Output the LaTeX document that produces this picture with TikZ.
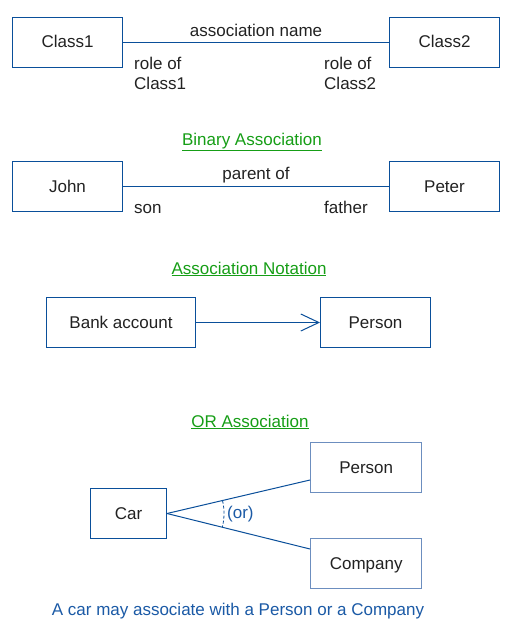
\documentclass[tikz,border=0pt]{standalone}
\usepackage{fontspec}
\setmainfont{Liberation Sans}
\usetikzlibrary{arrows.meta}
\definecolor{edge}{HTML}{0A4F9A}
\definecolor{lightedge}{HTML}{6C8EBF}
\definecolor{ttl}{HTML}{169E16}
\definecolor{txt}{HTML}{222222}
\definecolor{cap}{HTML}{1B5AA6}
\begin{document}
\begin{tikzpicture}[x=1pt,y=-1pt,
  cls/.style={draw=edge,line width=1pt,minimum width=110pt,minimum height=50pt,inner sep=0pt,text height=14.5pt,text depth=3.5pt,text=txt,font=\fontsize{17}{20}\selectfont,anchor=north west},
  lcls/.style={cls,draw=lightedge,line width=1.4pt},
  conn/.style={draw=edge,line width=1pt},
  lbl/.style={text=txt,font=\fontsize{17}{20}\selectfont,inner sep=0pt},
  ttlstyle/.style={text=ttl,font=\fontsize{17}{20}\selectfont,inner sep=0pt},
  captxt/.style={text=cap,font=\fontsize{17}{20}\selectfont,inner sep=0pt}]
\useasboundingbox[fill=white] (0,0) rectangle (511,631);
% section 1
\node[cls] (c1) at (12,17) {Class1};
\node[cls] (c2) at (389,17) {Class2};
\draw[conn] (c1.east) -- node[lbl,above=5pt] (an) {association name} (c2.west);
\node[lbl,anchor=north west,align=left] (r1) at (134,57) {role of\\Class1};
\node[lbl,anchor=north west,align=left] (r2) at (324,57) {role of\\Class2};
% section 2
\node[ttlstyle] (t1) at (252,142) {\underline{Binary Association}};
\node[cls] (john) at (12,161) {John};
\node[cls] (peter) at (389,161) {Peter};
\draw[conn] (john.east) -- node[lbl,above=3pt] (po) {parent of} (peter.west);
\node[lbl,anchor=base west] (son) at (134,213) {son};
\node[lbl,anchor=base west] (fa) at (324,213) {father};
% section 3
\node[ttlstyle] (t2) at (249,269) {\underline{Association Notation}};
\node[cls,minimum width=149pt] (bank) at (46,297) {Bank account};
\node[cls] (pers) at (320,297) {Person};
\draw[conn,-{Straight Barb[length=18pt,width=17pt,line width=1pt]}] (bank.east) -- (pers.west);
% section 4
\node[ttlstyle] (t3) at (250,422) {\underline{OR Association}};
\node[cls,minimum width=76pt] (car) at (90,488) {Car};
\node[lcls,minimum width=111pt] (p2) at (310,442) {Person};
\node[lcls,minimum width=111pt] (comp) at (310,538) {Company};
\coordinate (pj) at (310,480);
\coordinate (cj) at (310,549);
\draw[conn] (car.east) -- (pj);
\draw[conn] (car.east) -- (cj);
\draw[draw=edge,line width=0.8pt,dash pattern=on 3pt off 2pt] (car.east) ++(-13:57) arc[start angle=-13,end angle=14,radius=57];
\node[captxt,anchor=west] (or) at (227,514) {(or)};
\node[captxt] (capn) at (238,611) {A car may associate with a Person or a Company};
\end{tikzpicture}
\end{document}
